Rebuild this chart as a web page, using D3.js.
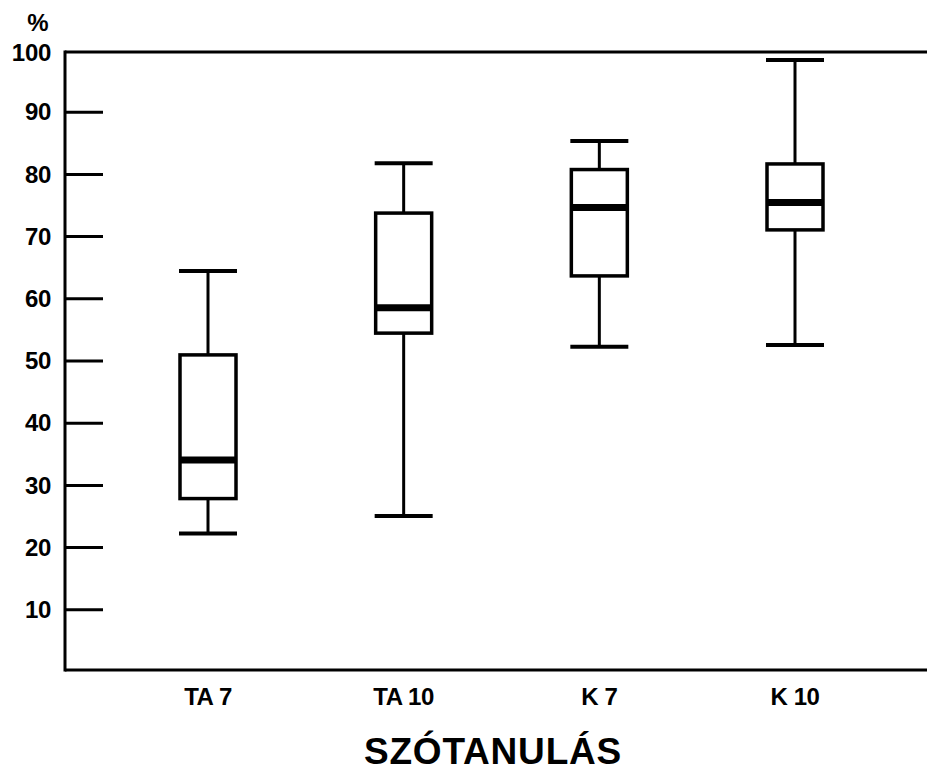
<!DOCTYPE html>
<html>
<head>
<meta charset="utf-8">
<script src="https://cdn.jsdelivr.net/npm/d3@7"></script>
<style>
  html, body { margin: 0; padding: 0; background: #fff; }
  svg { display: block; }
  text { font-family: "Liberation Sans", Arial, Helvetica, sans-serif; font-weight: bold; fill: #000; }
</style>
</head>
<body>
<svg id="chart" width="927" height="772"></svg>
<script>
// ---- data ----
const categories = ["TA 7", "TA 10", "K 7", "K 10"];
const whiskerLow  = [22.2, 25.0, 52.2, 52.5];
const q1          = [27.8, 54.4, 63.6, 71.0];
const medians     = [34.0, 58.5, 74.6, 75.4];
const q3          = [50.9, 73.7, 80.7, 81.6];
const whiskerHigh = [64.4, 81.7, 85.3, 98.3];
const yTicks = [10, 20, 30, 40, 50, 60, 70, 80, 90, 100];
const yUnit = "%";
const title = "SZÓTANULÁS";

const rows = categories.map((c, i) => ({
  cat: c, lo: whiskerLow[i], q1: q1[i], med: medians[i], q3: q3[i], hi: whiskerHigh[i]
}));

// ---- layout ----
const M = { left: 65, right: 927, top: 52, bottom: 670 };
const svg = d3.select("#chart");

const y = d3.scaleLinear().domain([0, 100]).range([671.5, 49.5]);
const x = d3.scalePoint().domain(categories).range([208, 795]);
const boxW = 56;

// frame: left, top, bottom
svg.append("line").attr("x1", M.left).attr("x2", M.left).attr("y1", M.top - 1.5).attr("y2", M.bottom + 1.5)
  .attr("stroke", "#000").attr("stroke-width", 3);
svg.append("line").attr("x1", M.left).attr("x2", M.right).attr("y1", M.top).attr("y2", M.top)
  .attr("stroke", "#000").attr("stroke-width", 3);
svg.append("line").attr("x1", M.left).attr("x2", M.right).attr("y1", M.bottom).attr("y2", M.bottom)
  .attr("stroke", "#000").attr("stroke-width", 3);

// y axis ticks (inward) via d3 axis
const yAxis = d3.axisRight(y).tickValues(yTicks.filter(v => v < 100)).tickSize(38).tickFormat("");
const gy = svg.append("g").attr("transform", `translate(${M.left},0)`).call(yAxis);
gy.select(".domain").remove();
gy.selectAll(".tick line").attr("stroke", "#000").attr("stroke-width", 3);

// y tick labels
svg.append("g").selectAll("text").data(yTicks).join("text")
  .attr("x", 51).attr("y", d => d === 100 ? M.top : y(d))
  .attr("dy", "0.36em")
  .attr("text-anchor", "end")
  .attr("font-size", 24)
  .attr("letter-spacing", -0.3)
  .text(d => d);

svg.append("text").attr("x", 38).attr("y", 31).attr("text-anchor", "middle")
  .attr("font-size", 24).attr("font-weight", "normal").text(yUnit);

// x labels
svg.append("g").selectAll("text").data(categories).join("text")
  .attr("x", d => x(d)).attr("y", 705)
  .attr("text-anchor", "middle")
  .attr("font-size", 24)
  .attr("letter-spacing", -0.4)
  .text(d => d);

// title
svg.append("text").attr("x", 493).attr("y", 764).attr("text-anchor", "middle")
  .attr("font-size", 37).attr("letter-spacing", 0.8).text(title);

// boxes
const g = svg.append("g").selectAll("g").data(rows).join("g");
// whiskers
g.append("line").attr("x1", d => x(d.cat)).attr("x2", d => x(d.cat))
  .attr("y1", d => y(d.hi)).attr("y2", d => y(d.q3)).attr("stroke", "#000").attr("stroke-width", 3);
g.append("line").attr("x1", d => x(d.cat)).attr("x2", d => x(d.cat))
  .attr("y1", d => y(d.q1)).attr("y2", d => y(d.lo)).attr("stroke", "#000").attr("stroke-width", 3);
// caps
g.append("line").attr("x1", d => x(d.cat) - boxW / 2 - 1).attr("x2", d => x(d.cat) + boxW / 2 + 1)
  .attr("y1", d => y(d.hi)).attr("y2", d => y(d.hi)).attr("stroke", "#000").attr("stroke-width", 4);
g.append("line").attr("x1", d => x(d.cat) - boxW / 2 - 1).attr("x2", d => x(d.cat) + boxW / 2 + 1)
  .attr("y1", d => y(d.lo)).attr("y2", d => y(d.lo)).attr("stroke", "#000").attr("stroke-width", 4);
// box
g.append("rect").attr("x", d => x(d.cat) - boxW / 2).attr("width", boxW)
  .attr("y", d => y(d.q3)).attr("height", d => y(d.q1) - y(d.q3))
  .attr("fill", "#fff").attr("stroke", "#000").attr("stroke-width", 3.5);
// median
g.append("line").attr("x1", d => x(d.cat) - boxW / 2).attr("x2", d => x(d.cat) + boxW / 2)
  .attr("y1", d => y(d.med)).attr("y2", d => y(d.med)).attr("stroke", "#000").attr("stroke-width", 7);
</script>
</body>
</html>
